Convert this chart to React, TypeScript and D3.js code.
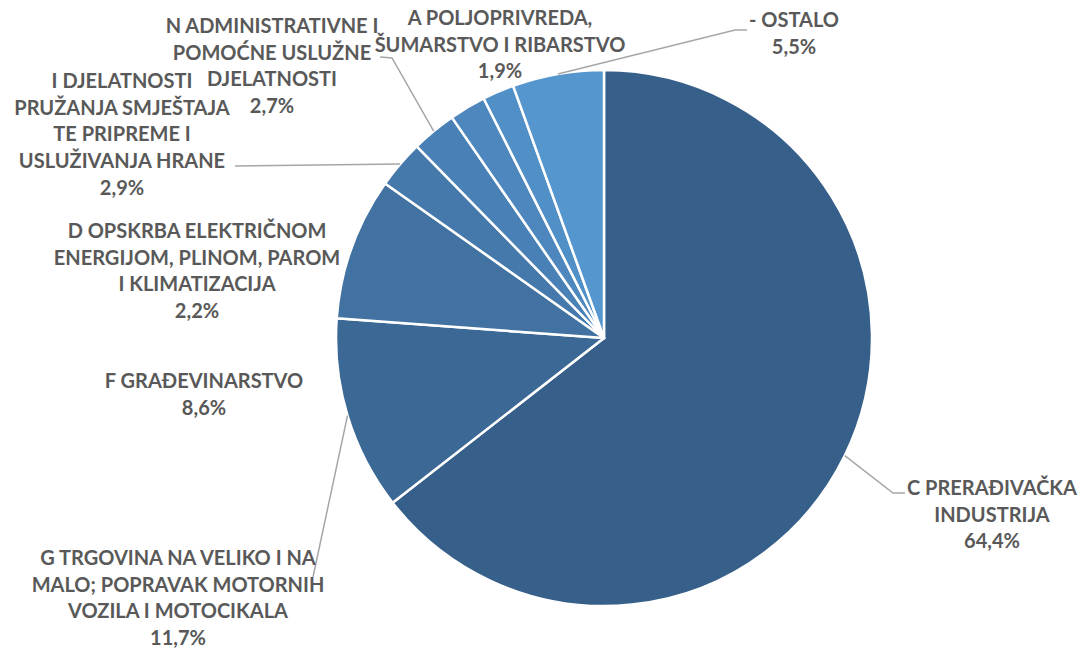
import React from "react";
import * as d3 from "d3";

const categories = [
  "C PRERAĐIVAČKA INDUSTRIJA",
  "G TRGOVINA NA VELIKO I NA MALO; POPRAVAK MOTORNIH VOZILA I MOTOCIKALA",
  "F GRAĐEVINARSTVO",
  "I DJELATNOSTI PRUŽANJA SMJEŠTAJA TE PRIPREME I USLUŽIVANJA HRANE",
  "N ADMINISTRATIVNE I POMOĆNE USLUŽNE DJELATNOSTI",
  "D OPSKRBA ELEKTRIČNOM ENERGIJOM, PLINOM, PAROM I KLIMATIZACIJA",
  "A POLJOPRIVREDA, ŠUMARSTVO I RIBARSTVO",
  "- OSTALO",
];
const values = [64.4, 11.7, 8.6, 2.9, 2.7, 2.2, 1.9, 5.5];
const valueLabels = ["64,4%", "11,7%", "8,6%", "2,9%", "2,7%", "2,2%", "1,9%", "5,5%"];
const labelLines = [
  ["C PRERAĐIVAČKA", "INDUSTRIJA"],
  ["G TRGOVINA NA VELIKO I NA", "MALO; POPRAVAK MOTORNIH", "VOZILA I MOTOCIKALA"],
  ["F GRAĐEVINARSTVO"],
  ["I DJELATNOSTI", "PRUŽANJA SMJEŠTAJA", "TE PRIPREME I", "USLUŽIVANJA HRANE"],
  ["N ADMINISTRATIVNE I", "POMOĆNE USLUŽNE", "DJELATNOSTI"],
  ["D OPSKRBA ELEKTRIČNOM", "ENERGIJOM, PLINOM, PAROM", "I KLIMATIZACIJA"],
  ["A POLJOPRIVREDA,", "ŠUMARSTVO I RIBARSTVO"],
  ["- OSTALO"],
];
const colors = ["#365F89", "#3B6895", "#4172A2", "#4579AC", "#4980B5", "#4D87BE", "#518FC7", "#5696CE"];

// label layout: center x, first baseline y, optional leader path points (after the arc point)
const labelLayout: { x: number; y: number; leader?: [number, number][] }[] = [
  { x: 992, y: 495, leader: [[893, 493], [905, 493]] },
  { x: 178, y: 565, leader: [[313, 577]] },
  { x: 204, y: 388 },
  { x: 122, y: 88, leader: [[235, 166]] },
  { x: 272, y: 33, leader: [[392, 58], [380, 57]] },
  { x: 197, y: 238 },
  { x: 500, y: 25 },
  { x: 794, y: 27, leader: [[735, 30], [747, 30]] },
];

const cx = 604;
const cy = 338;
const radius = 268;
const lineH = 26.7;

export default function App() {
  const pie = d3.pie<number>().sort(null).value((d) => d);
  const arcs = pie(values);
  const arc = d3.arc<d3.PieArcDatum<number>>().innerRadius(0).outerRadius(radius);

  return (
    <svg width={1085} height={648} style={{ display: "block", position: "absolute", left: 0, top: 0 }}>
      <rect width={1085} height={648} fill="#ffffff" />
      <g transform={`translate(${cx},${cy})`}>
        {arcs.map((a, i) => (
          <path key={i} d={arc(a) || ""} fill={colors[i]} stroke="#ffffff" strokeWidth={2.5} strokeLinejoin="round" />
        ))}
      </g>
      {arcs.map((a, i) => {
        const L = labelLayout[i];
        if (!L.leader) return null;
        const mid = (a.startAngle + a.endAngle) / 2;
        const px = cx + radius * Math.sin(mid);
        const py = cy - radius * Math.cos(mid);
        const pts: [number, number][] = [[px, py], ...L.leader];
        return (
          <path
            key={"l" + i}
            d={d3.line()(pts) || ""}
            fill="none"
            stroke="#A6A6A6"
            strokeWidth={1.5}
          />
        );
      })}
      {labelLayout.map((L, i) => {
        const lines = [...labelLines[i], valueLabels[i]];
        return (
          <text
            key={"t" + i}
            x={L.x}
            y={L.y}
            textAnchor="middle"
            fill="#595959"
            fontFamily="Lato, 'Open Sans', sans-serif"
            fontWeight={700}
            fontSize={20}
          >
            {lines.map((s, j) => (
              <tspan key={j} x={L.x} y={L.y + j * lineH}>
                {s}
              </tspan>
            ))}
          </text>
        );
      })}
    </svg>
  );
}
